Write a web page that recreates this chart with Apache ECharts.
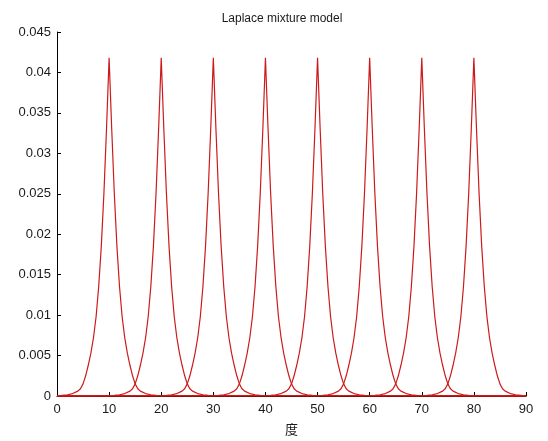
<!DOCTYPE html>
<html>
<head>
<meta charset="utf-8">
<script src="https://cdn.jsdelivr.net/npm/echarts@6/dist/echarts.min.js"></script>
<style>
  html, body { margin: 0; padding: 0; background: #fff; }
  #chart { width: 548px; height: 441px; }
</style>
</head>
<body>
<div id="chart"></div>
<script>
// Component centres (degrees)
const centers = [10, 20, 30, 40, 50, 60, 70, 80];
// Distance from a component's centre and the density read at that distance
const offsets = [0, 0.5, 1, 1.5, 2, 2.5, 3, 3.5, 4, 4.5, 5, 5.5, 6, 7, 8, 9, 10];
const density = [0.0418, 0.0330, 0.0250, 0.0185, 0.0135, 0.0098, 0.0072, 0.0053, 0.0038, 0.0025, 0.0015, 0.0009, 0.0006, 0.0003, 0.00015, 0.00008, 0.00004];
// Axis ranges
const xRange = [0, 90];
const yRange = [0, 0.045];

// One component traced across the whole axis range
function componentPoints(c) {
  const pts = [[xRange[0], 0]];
  for (let i = offsets.length - 1; i > 0; i--) {
    const x = c - offsets[i];
    if (x > xRange[0]) pts.push([x, density[i]]);
  }
  pts.push([c, density[0]]);
  for (let i = 1; i < offsets.length; i++) {
    const x = c + offsets[i];
    if (x < xRange[1]) pts.push([x, density[i]]);
  }
  pts.push([xRange[1], 0]);
  return pts;
}

const axisText = { color: '#1a1a1a', fontFamily: 'Liberation Sans, Arial, sans-serif', fontSize: 13 };

const chart = echarts.init(document.getElementById('chart'), null, { renderer: 'canvas' });
chart.setOption({
  animation: false,
  backgroundColor: '#ffffff',
  title: {
    text: 'Laplace mixture model',
    left: 277, top: 8, textAlign: 'center',
    textStyle: { fontFamily: 'Liberation Sans, Arial, sans-serif', fontSize: 12, fontWeight: 'normal', color: '#1a1a1a' }
  },
  grid: { left: 57, right: 22, top: 32, bottom: 40, containLabel: false },
  xAxis: {
    type: 'value', min: xRange[0], max: xRange[1], interval: 10,
    name: '度', nameLocation: 'middle', nameGap: 27,
    nameTextStyle: { color: '#1a1a1a', fontFamily: 'Noto Sans CJK SC', fontSize: 13 },
    axisLine: { show: true, lineStyle: { color: '#000', width: 1 } },
    axisTick: { show: true, inside: true, length: 4, lineStyle: { color: '#000' } },
    axisLabel: Object.assign({ margin: 7 }, axisText),
    splitLine: { show: false }
  },
  yAxis: {
    type: 'value', min: yRange[0], max: yRange[1], interval: 0.005,
    axisLine: { show: true, lineStyle: { color: '#000', width: 1 } },
    axisTick: { show: true, inside: true, length: 4, lineStyle: { color: '#000' } },
    axisLabel: Object.assign({ margin: 6, formatter: v => String(+v.toFixed(3)) }, axisText),
    splitLine: { show: false }
  },
  series: centers.map(c => ({
    name: 'component ' + c,
    type: 'line',
    data: componentPoints(c),
    showSymbol: false,
    smooth: false,
    z: 5,
    lineStyle: { color: '#cc1a1a', width: 1.2 }
  }))
});
</script>
</body>
</html>
